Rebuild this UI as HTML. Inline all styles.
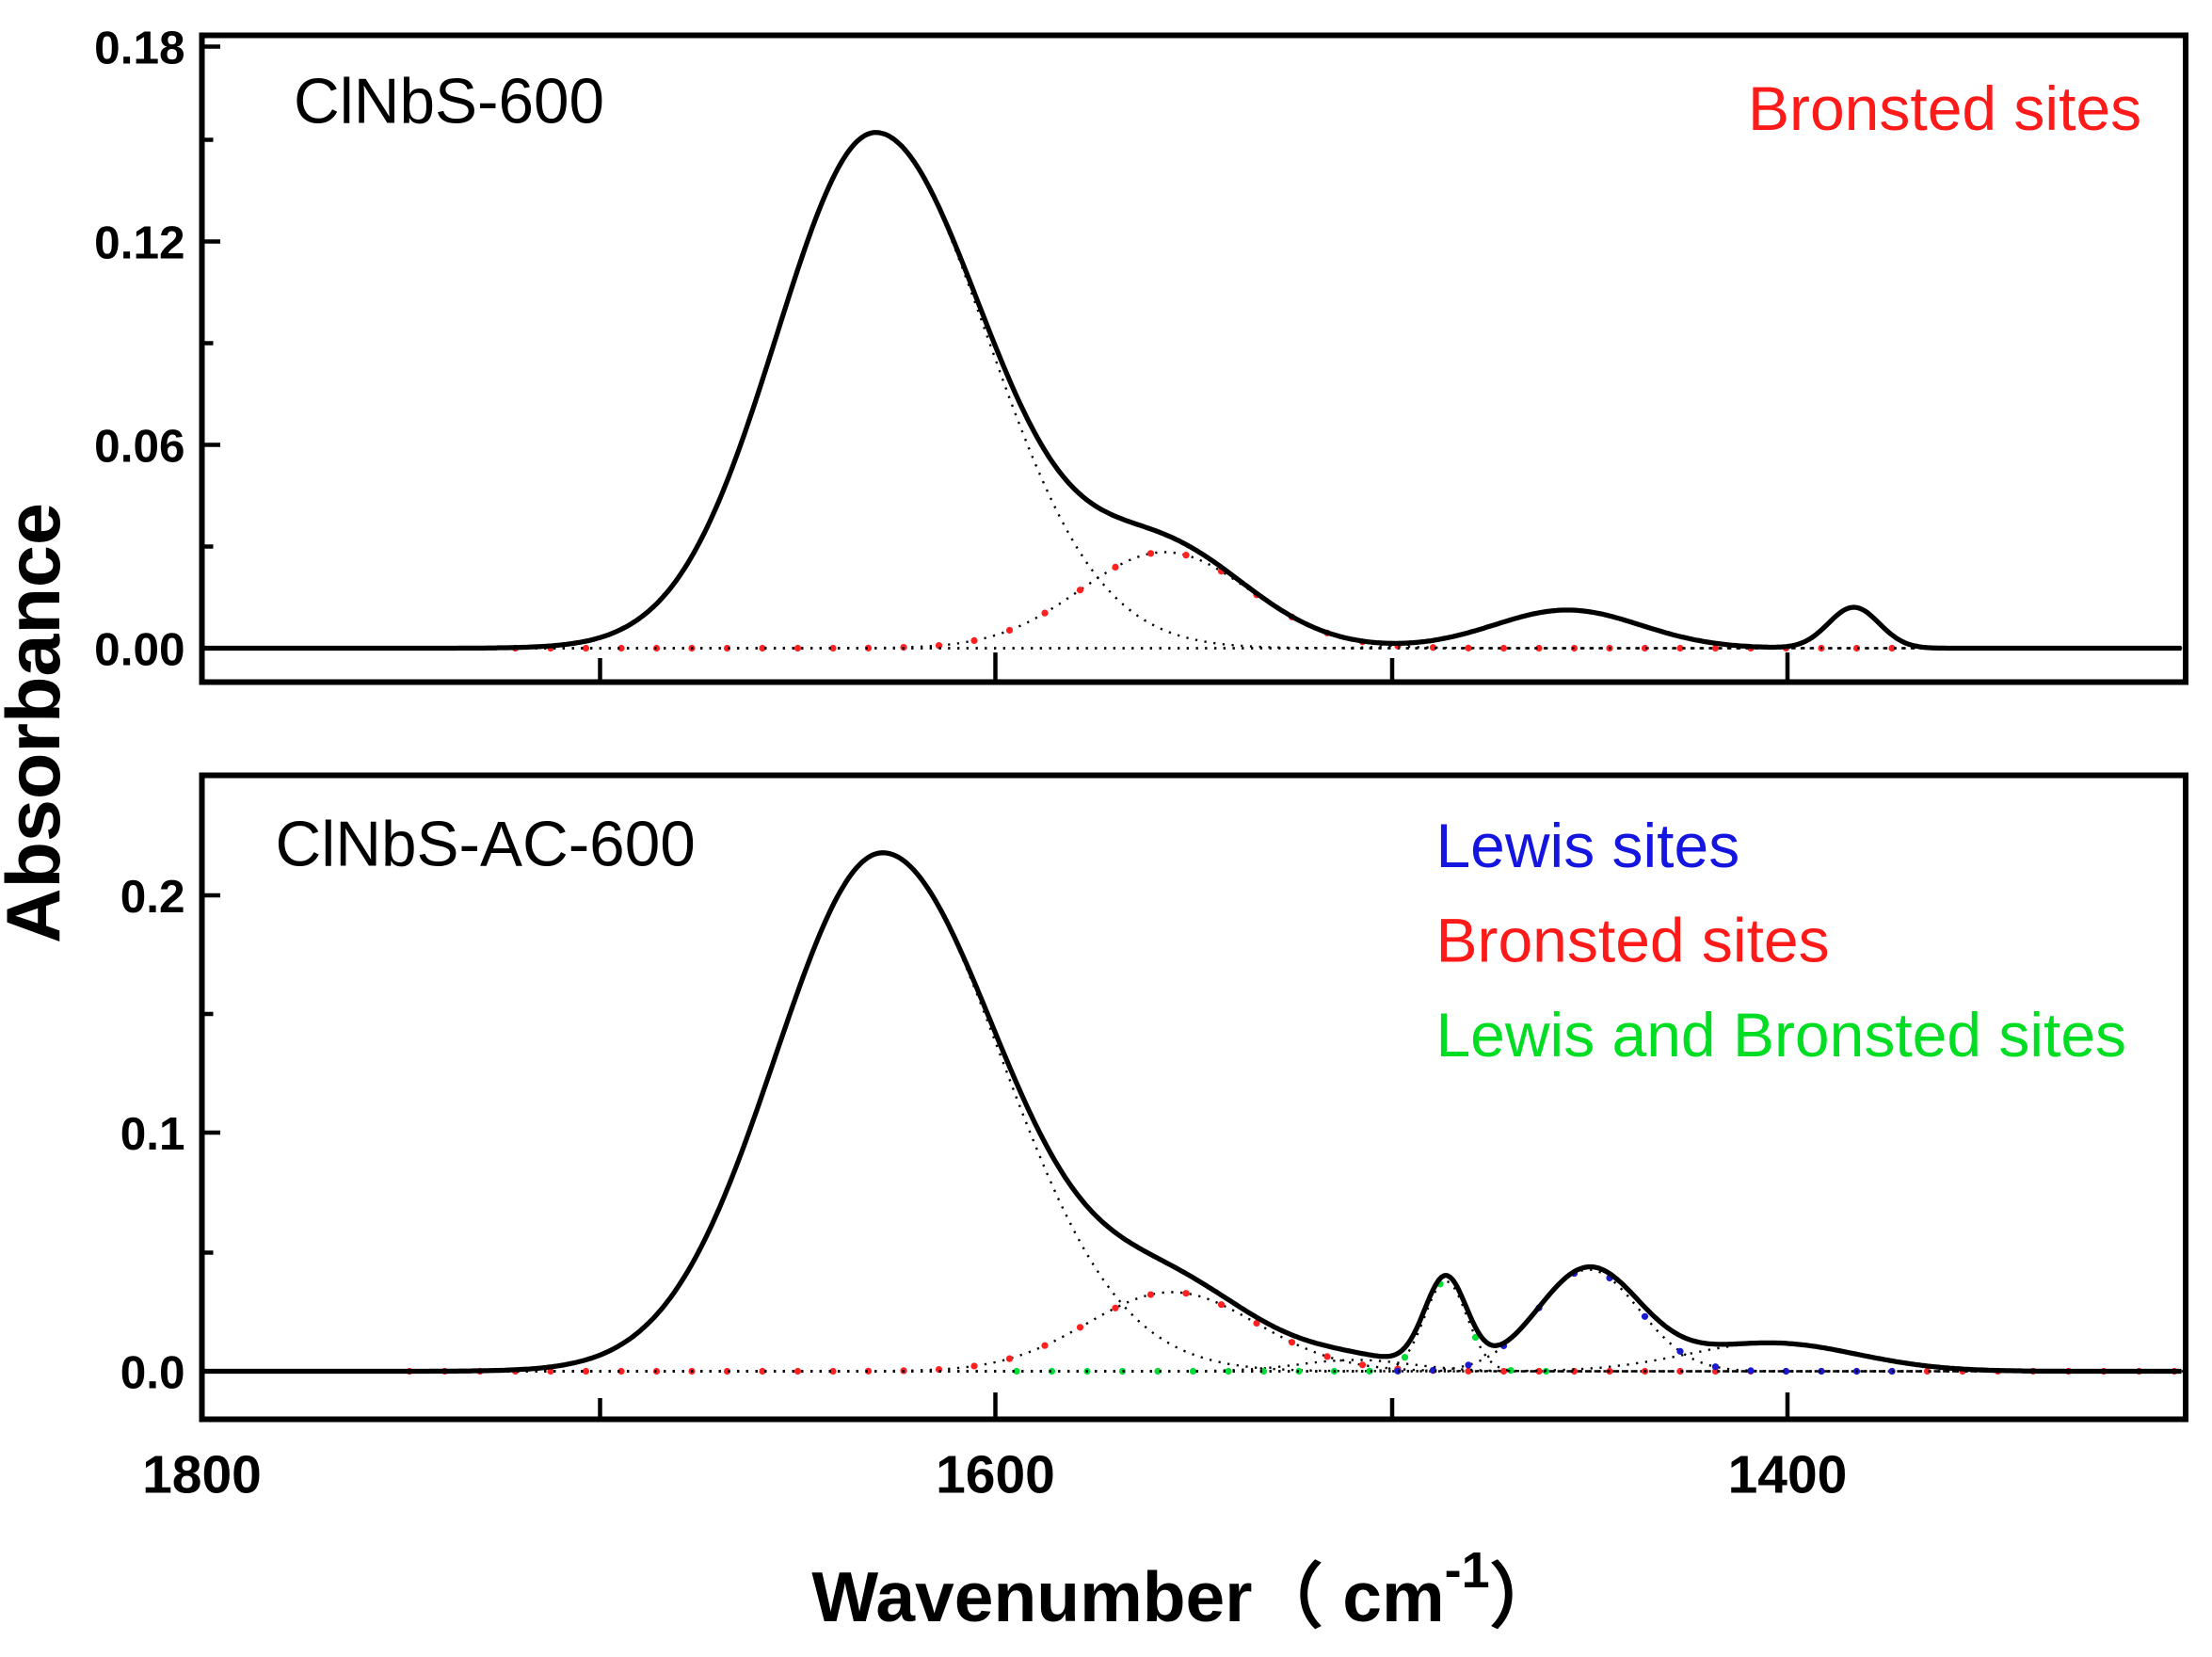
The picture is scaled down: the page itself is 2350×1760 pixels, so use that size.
<!DOCTYPE html>
<html><head><meta charset="utf-8"><style>
html,body{margin:0;padding:0;background:#fff}
svg{display:block}
text{font-family:"Liberation Sans",Arial,sans-serif}
</style></head><body>
<svg id="s" width="2350" height="1760" viewBox="0 0 1566.67 1173.33" xmlns="http://www.w3.org/2000/svg">
<rect width="1566.67" height="1173.33" fill="#fff"/>
<g id="curves"></g>
<rect x="143" y="25" width="1405" height="458" fill="none" stroke="#000" stroke-width="4"/>
<rect x="143" y="549" width="1405" height="456" fill="none" stroke="#000" stroke-width="4"/>
<g stroke="#000" stroke-width="3">
<line x1="425" y1="483" x2="425" y2="466"/><line x1="705" y1="483" x2="705" y2="462"/><line x1="986" y1="483" x2="986" y2="466"/><line x1="1266" y1="483" x2="1266" y2="462"/>
<line x1="425" y1="1005" x2="425" y2="990"/><line x1="705" y1="1005" x2="705" y2="986"/><line x1="986" y1="1005" x2="986" y2="990"/><line x1="1266" y1="1005" x2="1266" y2="986"/>
<line x1="143" y1="459" x2="156" y2="459"/><line x1="143" y1="315" x2="156" y2="315"/><line x1="143" y1="171" x2="156" y2="171"/><line x1="143" y1="33" x2="156" y2="33"/>
<line x1="143" y1="387" x2="151" y2="387"/><line x1="143" y1="243" x2="151" y2="243"/><line x1="143" y1="99" x2="151" y2="99"/>
<line x1="143" y1="971" x2="156" y2="971"/><line x1="143" y1="802" x2="156" y2="802"/><line x1="143" y1="634" x2="156" y2="634"/>
<line x1="143" y1="887" x2="151" y2="887"/><line x1="143" y1="718" x2="151" y2="718"/>
</g>
<g font-weight="bold" font-size="33" text-anchor="end" fill="#000">
<text x="131" y="45">0.18</text><text x="131" y="183">0.12</text><text x="131" y="327">0.06</text><text x="131" y="471">0.00</text>
<text x="131" y="646">0.2</text><text x="131" y="814">0.1</text><text x="131" y="983">0.0</text>
</g>
<g font-weight="bold" font-size="38" text-anchor="middle" fill="#000">
<text x="143" y="1057">1800</text><text x="705" y="1057">1600</text><text x="1266" y="1057">1400</text>
</g>
<text x="42" y="512" font-weight="bold" font-size="54" text-anchor="middle" transform="rotate(-90 42 512)">Absorbance</text>
<text x="840" y="1148" font-weight="bold" font-size="50" text-anchor="middle">Wavenumber（ cm<tspan dy="-24" font-size="36">-1</tspan><tspan dy="24">）</tspan></text>
<text x="208" y="87" font-size="45">ClNbS-600</text>
<text x="1238" y="92" font-size="44" fill="#ff1a1a">Bronsted sites</text>
<text x="195" y="613" font-size="45">ClNbS-AC-600</text>
<text x="1017" y="614" font-size="44" fill="#1515e0">Lewis sites</text>
<text x="1017" y="681" font-size="44" fill="#ff1a1a">Bronsted sites</text>
<text x="1017" y="748" font-size="44" fill="#00dd22">Lewis and Bronsted sites</text>
</svg>
<script>
var g=document.getElementById('curves');var NS='http://www.w3.org/2000/svg';
function G(x,c,a,s){return a*Math.exp(-(x-c)*(x-c)/(2*s*s));}
function mk(tag,at){var e=document.createElementNS(NS,tag);for(var k in at)e.setAttribute(k,at[k]);g.appendChild(e);return e;}
function draw(base,comps){
 comps.forEach(function(cp){
  var d='';for(var x=145;x<=1546;x+=3){var y=base-cp.f(x);d+=(x==145?'M':'L')+x+','+y.toFixed(1);}
  mk('path',{d:d,fill:'none',stroke:'#000','stroke-width':1.6,'stroke-dasharray':'1.5 5'});
  if(cp.col){for(var x=cp.x0;x<=cp.x1;x+=cp.step){mk('circle',{cx:x,cy:(base-cp.f(x)).toFixed(1),r:2.4,fill:cp.col});}}
 });
 var d='';for(var x=145;x<=1546;x+=2){var v=0;comps.forEach(function(c){v+=c.f(x)});d+=(x==145?'M':'L')+x+','+(base-v).toFixed(1);}
 mk('path',{d:d,fill:'none',stroke:'#000','stroke-width':3.5,'stroke-linejoin':'round'});
}
draw(459,[
 {f:function(x){return x<620?G(x,620,365,70):G(x,620,365,79);}},
 {f:function(x){return G(x,825,68,60);},col:'#ff2020',x0:365,x1:1345,step:25},
 {f:function(x){return G(x,1110,27,52);}},
 {f:function(x){return G(x,1313,29,18);}}
]);
draw(971,[
 {f:function(x){return x<625?G(x,625,367,76):G(x,625,367,84);}},
 {f:function(x){return G(x,830,56,60);},col:'#ff2020',x0:290,x1:1540,step:25},
 {f:function(x){return G(x,1024,64,15);},col:'#00dd33',x0:720,x1:1100,step:25},
 {f:function(x){return G(x,1125,72,36);},col:'#1a1ad0',x0:990,x1:1350,step:25},
 {f:function(x){return G(x,1255,20,60);}},
 {f:function(x){return G(x,960,8,40);}}
]);
</script>
</body></html>
